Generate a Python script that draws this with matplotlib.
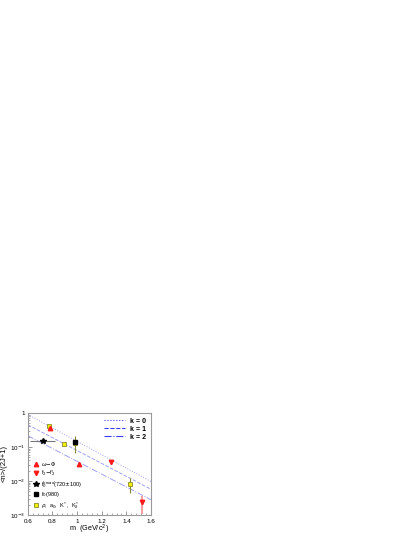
import matplotlib
matplotlib.use("Agg")
import matplotlib.pyplot as plt
from matplotlib.lines import Line2D
from matplotlib.ticker import LogLocator, MultipleLocator, NullFormatter

plt.rcParams['font.family'] = ['Liberation Sans', 'DejaVu Sans']

# k lines (straight in log scale), endpoints
line_m = [0.6, 1.6]
line_y = {0: [0.9, 0.0096], 1: [0.45, 0.0057], 2: [0.214, 0.0028]}
line_styles = {0: ':', 1: '--', 2: '-.'}

# omega - phi
wphi_m = [0.782, 1.019]
wphi_y = [0.35, 0.031]

# f2 - f2'
f2_m = [1.275, 1.525]
f2_y = [0.035, 0.0024]
f2_lo = [0.035, 0.0011]
f2_hi = [0.035, 0.0035]

# f0 broad (720 +- 100)
f0b_m = [0.72]
f0b_y = [0.146]
f0b_xerr = [0.1]

# f0(980)
f0_m = [0.98]
f0_y = [0.143]

# rho, a0, K*, K2*
rho_m = [0.775, 0.98, 0.892, 1.43]
rho_y = [0.42, 0.135, 0.122, 0.0080]
rho_lo = [0.42, 0.066, 0.122, 0.0044]
rho_hi = [0.42, 0.21, 0.122, 0.012]

fig = plt.figure(figsize=(4.15, 5.37), dpi=100)
ax = fig.add_axes([0.067, 0.041, 0.297, 0.190])

lc = '#8080f0'
for k in [0, 1, 2]:
    ax.plot(line_m, line_y[k], linestyle=line_styles[k], color=lc, lw=0.7, alpha=0.75)

# error bars
ax.errorbar(rho_m, rho_y,
            yerr=[[y - l for y, l in zip(rho_y, rho_lo)], [h - y for y, h in zip(rho_y, rho_hi)]],
            fmt='none', ecolor='#8a8a30', elinewidth=0.8, capsize=0)
ax.errorbar(f2_m, f2_y,
            yerr=[[y - l for y, l in zip(f2_y, f2_lo)], [h - y for y, h in zip(f2_y, f2_hi)]],
            fmt='none', ecolor='#f4a0a0', elinewidth=1.5, capsize=0)
ax.errorbar(f0b_m, f0b_y, xerr=f0b_xerr, fmt='none', ecolor='#777777', elinewidth=0.8, capsize=0)

ms = 3.2
ax.plot(f0_m, f0_y, 's', color='black', ms=ms, zorder=4)
ax.plot(rho_m, rho_y, 's', mfc='#f0f000', mec='#8a8a30', mew=0.6, ms=ms, zorder=3)
ax.plot(wphi_m, wphi_y, '^', color='#ff1a1a', ms=ms, zorder=5)
ax.plot(f2_m, f2_y, 'v', color='#ff1a1a', ms=ms, zorder=5)
ax.plot(f0b_m, f0b_y, '*', color='black', ms=4, zorder=5)

ax.set_xlim(0.6, 1.6)
ax.set_yscale('log')
ax.set_ylim(1e-3, 1)
ax.set_xticks([0.6, 0.8, 1.0, 1.2, 1.4, 1.6])
ax.set_xticklabels(['0.6', '0.8', '1', '1.2', '1.4', '1.6'])
ax.xaxis.set_minor_locator(MultipleLocator(0.04))
ax.set_yticks([1e-3, 1e-2, 1e-1, 1])
ax.set_yticklabels(['10$^{-3}$', '10$^{-2}$', '10$^{-1}$', '1'])
ax.yaxis.set_minor_locator(LogLocator(base=10, subs=range(2, 10)))
ax.yaxis.set_minor_formatter(NullFormatter())
ax.tick_params(which='both', direction='in', labelsize=4.5, color='#888888', pad=2)
ax.tick_params(axis='x', which='both', pad=3)
ax.tick_params(which='major', length=3, width=0.6)
ax.tick_params(which='minor', length=1.5, width=0.5)
for s in ax.spines.values():
    s.set_color('#999999')
    s.set_linewidth(0.8)

ax.set_ylabel('<n>/(2J+1)', fontsize=5.5)
ax.yaxis.set_label_coords(-0.16, 0.5)
ax.set_xlabel('m  (GeV/c$^2$)', fontsize=5.2)
ax.xaxis.set_label_coords(0.5, -0.078)

# upper right legend for k lines
kh = [Line2D([], [], color='#3a3aff', linestyle=line_styles[k], lw=0.8) for k in [0, 1, 2]]
leg1 = ax.legend(kh, ['k = 0', 'k = 1', 'k = 2'], loc='upper right', frameon=False,
                 handlelength=3, labelspacing=0.15, borderaxespad=0.3,
                 prop={'weight': 'bold', 'size': 5})
ax.add_artist(leg1)

mh = [
    Line2D([], [], marker='^', color='#ff1a1a', ls='none', ms=ms),
    Line2D([], [], marker='v', color='#ff1a1a', ls='none', ms=ms),
    Line2D([], [], marker='*', color='black', ls='none', ms=4),
    Line2D([], [], marker='s', color='black', ls='none', ms=ms),
    Line2D([], [], marker='s', mfc='#f0f000', mec='#8a8a30', mew=0.6, ls='none', ms=ms),
]
ml = [r'$\omega$$-$$\Phi$', "f$_2$$-$f$_2'$", 'f$_0^{broad}$(720$\\pm$100)', 'f$_0$(980)',
      r'$\rho$,  a$_0$,  K$^*$,  K$_2^*$']
ax.legend(mh, ml, loc='lower left', frameon=False, fontsize=4, handlelength=1.2,
          labelspacing=0.1, borderaxespad=0.4, handletextpad=0.4)

fig.savefig('out.png', dpi=100)
